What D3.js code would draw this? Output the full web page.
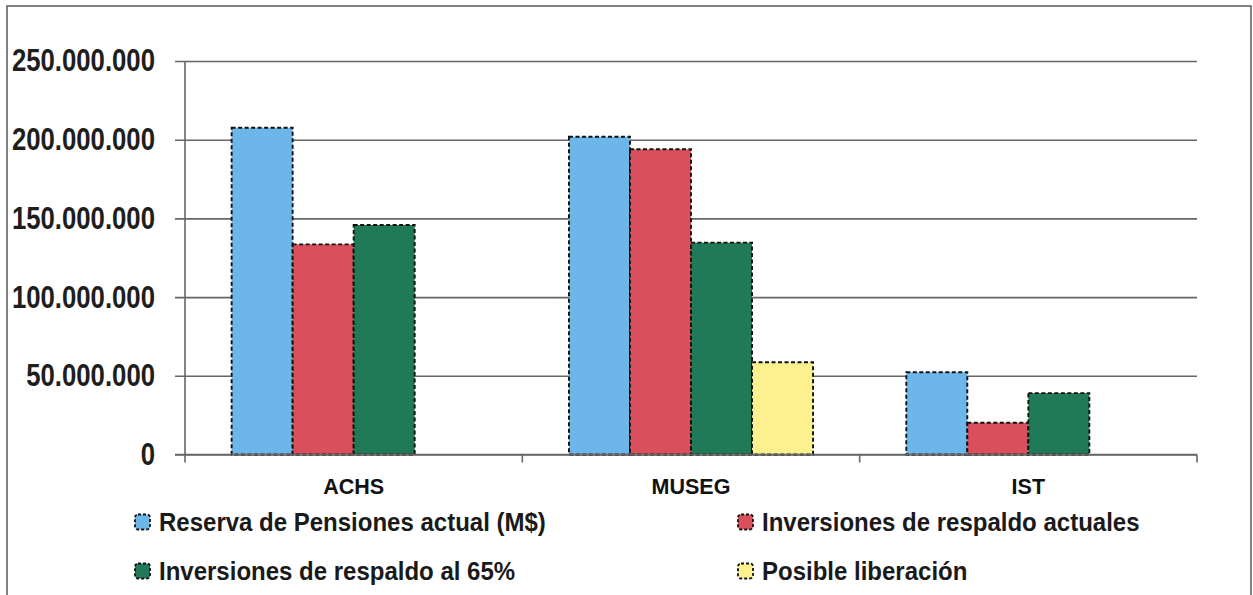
<!DOCTYPE html>
<html><head><meta charset="utf-8">
<script src="https://cdn.jsdelivr.net/npm/d3@7"></script>
<style>
html,body{margin:0;padding:0;background:#fff;}
svg{display:block;font-family:"Liberation Sans",Arial,Helvetica,sans-serif;font-weight:bold;}
</style></head>
<body>
<svg id="chart" width="1253" height="595"></svg>
<script>
const categories = ["ACHS", "MUSEG", "IST"];
const seriesNames = ["Reserva de Pensiones actual (M$)", "Inversiones de respaldo actuales", "Inversiones de respaldo al 65%", "Posible liberación"];
const reserva = [207600000, 201900000, 52300000];
const respaldoActual = [133500000, 193900000, 20200000];
const respaldo65 = [145800000, 134600000, 39000000];
const liberacion = [null, 58600000, null];
const yTicks = [0, 50000000, 100000000, 150000000, 200000000, 250000000];
const colors = ["#6db6e9", "#d94f5c", "#207a58", "#fdf08f"];

const seriesValues = [reserva, respaldoActual, respaldo65, liberacion];
const svg = d3.select("#chart");

// outer frame
svg.append("rect").attr("x", 7).attr("y", 6).attr("width", 1244).attr("height", 600)
  .attr("fill", "#fff").attr("stroke", "#5a5a5a").attr("stroke-width", 1.5);

const x = d3.scaleBand().domain(categories).range([185, 1197]).paddingInner(0).paddingOuter(0);
const xs = d3.scaleBand().domain(seriesNames).range([0, x.bandwidth()]).paddingInner(0).paddingOuter(0.764);
const y = d3.scaleLinear().domain([0, 250000000]).range([454.5, 61]);
const fmt = v => d3.format(",")(v).replace(/,/g, ".");

// gridlines + y ticks
const yAxis = d3.axisLeft(y).tickValues(yTicks).tickSize(-(1197 - 175)).tickSizeOuter(0).tickFormat(fmt).tickPadding(20);
const gy = svg.append("g").attr("transform", "translate(175,0)").call(yAxis);
gy.select(".domain").remove();
gy.selectAll(".tick line").attr("stroke", "#666").attr("stroke-width", 1.6);
gy.selectAll(".tick text").attr("fill", "#1e1e1e").attr("font-size", 31).attr("font-weight", "bold")
  .attr("font-family", '"Liberation Sans",Arial,sans-serif')
  .each(function(){ const w = this.getComputedTextLength(); d3.select(this).attr("textLength", w * 0.83).attr("lengthAdjust", "spacingAndGlyphs"); });

// y axis line
svg.append("line").attr("x1", 185).attr("x2", 185).attr("y1", y(250000000)).attr("y2", y(0))
  .attr("stroke", "#666").attr("stroke-width", 1.6);

// bars
const data = [];
categories.forEach((c, i) => seriesNames.forEach((s, j) => {
  if (seriesValues[j][i] != null) data.push({c, s, v: seriesValues[j][i], color: colors[j]});
}));
svg.append("g").selectAll("rect").data(data).join("rect")
  .attr("x", d => x(d.c) + xs(d.s))
  .attr("y", d => y(d.v))
  .attr("width", xs.bandwidth())
  .attr("height", d => y(0) - y(d.v))
  .attr("fill", d => d.color)
  .attr("stroke", "#111").attr("stroke-width", 1.9).attr("stroke-dasharray", "4,2.5");

// x axis
const xAxis = d3.axisBottom(x).tickSize(0).tickFormat(d => d).tickPadding(24);
const gx = svg.append("g").attr("transform", `translate(0,${y(0)})`).call(xAxis);
gx.select(".domain").attr("stroke", "#666").attr("stroke-width", 1.6).attr("d", `M175,0H1197`);
gx.selectAll(".tick text").attr("fill", "#111").attr("font-size", 21.5).attr("font-weight", "bold")
  .attr("font-family", '"Liberation Sans",Arial,sans-serif');
// boundary ticks between categories
const bounds = categories.map(c => x(c)).concat([x(categories[categories.length - 1]) + x.bandwidth()]);
svg.append("g").selectAll("line").data(bounds).join("line")
  .attr("x1", d => d).attr("x2", d => d).attr("y1", y(0)).attr("y2", y(0) + 8)
  .attr("stroke", "#666").attr("stroke-width", 1.6);

// legend
const legendPos = [[135, 522], [738, 522], [135, 571], [738, 571]];
const lg = svg.append("g").selectAll("g").data(seriesNames).join("g")
  .attr("transform", (d, i) => `translate(${legendPos[i][0]},${legendPos[i][1]})`);
lg.append("rect").attr("x", 0).attr("y", -7.5).attr("width", 15).attr("height", 15).attr("rx", 3)
  .attr("fill", (d, i) => colors[i]).attr("stroke", "#111").attr("stroke-width", 1.8).attr("stroke-dasharray", "3,2");
lg.append("text").attr("x", 24).attr("y", 0).attr("dy", "0.36em").attr("font-size", 25)
  .attr("fill", "#1a1a1a").text(d => d)
  .each(function(){ const w = this.getComputedTextLength(); d3.select(this).attr("textLength", w * 0.96).attr("lengthAdjust", "spacingAndGlyphs"); });
</script>
</body></html>
